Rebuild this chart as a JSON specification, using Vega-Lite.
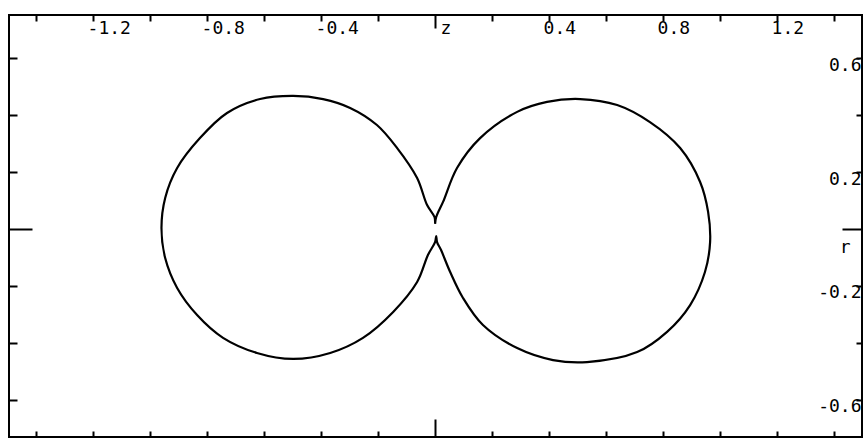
{
  "$schema": "https://vega.github.io/schema/vega-lite/v6.json",
  "width": 853,
  "height": 422,
  "autosize": {"type": "none"},
  "padding": {"left": 9, "top": 15, "right": 2, "bottom": 9},
  "background": "white",
  "config": {
    "view": {"stroke": "black", "strokeWidth": 2},
    "axis": {"domain": false, "grid": false, "tickColor": "black", "tickWidth": 2, "labelColor": "black", "labelFont": "DejaVu Sans Mono", "labelFontSize": 18, "labelOverlap": false, "labelBound": false, "labelFlush": false, "title": null}
  },
  "data": {"values": [
    {"i": 1, "z": 0.0, "r": 0.018},
    {"i": 2, "z": -0.002, "r": 0.042},
    {"i": 3, "z": -0.028, "r": 0.084},
    {"i": 4, "z": -0.063, "r": 0.179},
    {"i": 5, "z": -0.133, "r": 0.284},
    {"i": 6, "z": -0.204, "r": 0.365},
    {"i": 7, "z": -0.298, "r": 0.425},
    {"i": 8, "z": -0.393, "r": 0.456},
    {"i": 9, "z": -0.498, "r": 0.467},
    {"i": 10, "z": -0.614, "r": 0.456},
    {"i": 11, "z": -0.73, "r": 0.407},
    {"i": 12, "z": -0.825, "r": 0.319},
    {"i": 13, "z": -0.905, "r": 0.214},
    {"i": 14, "z": -0.947, "r": 0.109},
    {"i": 15, "z": -0.96, "r": 0.004},
    {"i": 16, "z": -0.947, "r": -0.102},
    {"i": 17, "z": -0.905, "r": -0.207},
    {"i": 18, "z": -0.835, "r": -0.302},
    {"i": 19, "z": -0.744, "r": -0.382},
    {"i": 20, "z": -0.625, "r": -0.435},
    {"i": 21, "z": -0.498, "r": -0.456},
    {"i": 22, "z": -0.368, "r": -0.435},
    {"i": 23, "z": -0.253, "r": -0.382},
    {"i": 24, "z": -0.147, "r": -0.291},
    {"i": 25, "z": -0.063, "r": -0.186},
    {"i": 26, "z": -0.025, "r": -0.091},
    {"i": 27, "z": 0.0, "r": -0.046},
    {"i": 28, "z": 0.004, "r": -0.025},
    {"i": 29, "z": 0.007, "r": -0.046},
    {"i": 30, "z": 0.021, "r": -0.074},
    {"i": 31, "z": 0.053, "r": -0.151},
    {"i": 32, "z": 0.098, "r": -0.242},
    {"i": 33, "z": 0.168, "r": -0.337},
    {"i": 34, "z": 0.288, "r": -0.418},
    {"i": 35, "z": 0.414, "r": -0.46},
    {"i": 36, "z": 0.533, "r": -0.467},
    {"i": 37, "z": 0.709, "r": -0.432},
    {"i": 38, "z": 0.814, "r": -0.361},
    {"i": 39, "z": 0.895, "r": -0.267},
    {"i": 40, "z": 0.947, "r": -0.151},
    {"i": 41, "z": 0.965, "r": -0.046},
    {"i": 42, "z": 0.958, "r": 0.06},
    {"i": 43, "z": 0.93, "r": 0.165},
    {"i": 44, "z": 0.86, "r": 0.284},
    {"i": 45, "z": 0.754, "r": 0.375},
    {"i": 46, "z": 0.639, "r": 0.435},
    {"i": 47, "z": 0.509, "r": 0.456},
    {"i": 48, "z": 0.393, "r": 0.446},
    {"i": 49, "z": 0.288, "r": 0.411},
    {"i": 50, "z": 0.158, "r": 0.319},
    {"i": 51, "z": 0.077, "r": 0.214},
    {"i": 52, "z": 0.028, "r": 0.095},
    {"i": 53, "z": 0.004, "r": 0.042},
    {"i": 54, "z": 0.0, "r": 0.018}
  ]},
  "resolve": {"axis": {"x": "independent", "y": "independent"}},
  "layer": [
    {
      "mark": {"type": "line", "color": "black", "strokeWidth": 2.2, "interpolate": "catmull-rom"},
      "encoding": {
        "order": {"field": "i", "type": "quantitative"},
        "x": {"field": "z", "type": "quantitative",
          "scale": {"domain": [-1.495, 1.498], "nice": false, "zero": false},
          "axis": {"orient": "top",
            "values": [-1.4, -1.2, -1.0, -0.8, -0.6, -0.4, -0.2, 0, 0.2, 0.4, 0.6, 0.8, 1.0, 1.2, 1.4],
            "tickSize": {"condition": {"test": "datum.value == 0", "value": -13}, "value": -6},
            "labelPadding": {"condition": {"test": "datum.value == 0", "value": 9}, "value": 2},
            "labelBaseline": "top",
            "labelAlign": "left",
            "labelOffset": {"condition": {"test": "datum.value == 0", "value": 5}, "value": -6},
            "labelExpr": "datum.value == 0 ? 'z' : (abs(round(datum.value*10)) % 4 == 0 ? (datum.value < 0 ? '-' : '') + format(abs(datum.value), '.1f') : '')"
          }
        },
        "y": {"field": "r", "type": "quantitative",
          "scale": {"domain": [-0.73, 0.751], "nice": false, "zero": false},
          "axis": {"orient": "right",
            "values": [-0.6, -0.4, -0.2, 0, 0.2, 0.4, 0.6],
            "tickSize": {"condition": {"test": "datum.value == 0", "value": -20}, "value": -6},
            "labelPadding": {"condition": {"test": "datum.value == 0", "value": 8}, "value": 5},
            "labelAlign": "right",
            "labelBaseline": {"condition": {"test": "datum.value == 0", "value": "top"}, "value": "middle"},
            "labelOffset": {"condition": {"test": "datum.value == 0", "value": 10}, "value": 7},
            "labelExpr": "datum.value == 0 ? 'r' : (abs(round(datum.value*10)) % 4 == 2 ? (datum.value < 0 ? '-' : '') + format(abs(datum.value), '.1f') : '')"
          }
        }
      }
    },
    {
      "mark": {"type": "line", "strokeOpacity": 0},
      "encoding": {
        "order": {"field": "i", "type": "quantitative"},
        "x": {"field": "z", "type": "quantitative",
          "axis": {"orient": "bottom", "labels": false,
            "values": [-1.4, -1.2, -1.0, -0.8, -0.6, -0.4, -0.2, 0, 0.2, 0.4, 0.6, 0.8, 1.0, 1.2, 1.4],
            "tickSize": {"condition": {"test": "datum.value != 0", "value": -6}, "value": -18}
          }
        },
        "y": {"field": "r", "type": "quantitative",
          "axis": {"orient": "left", "labels": false,
            "values": [-0.6, -0.4, -0.2, 0, 0.2, 0.4, 0.6],
            "tickSize": {"condition": {"test": "datum.value != 0", "value": -8}, "value": -23}
          }
        }
      }
    }
  ]
}
